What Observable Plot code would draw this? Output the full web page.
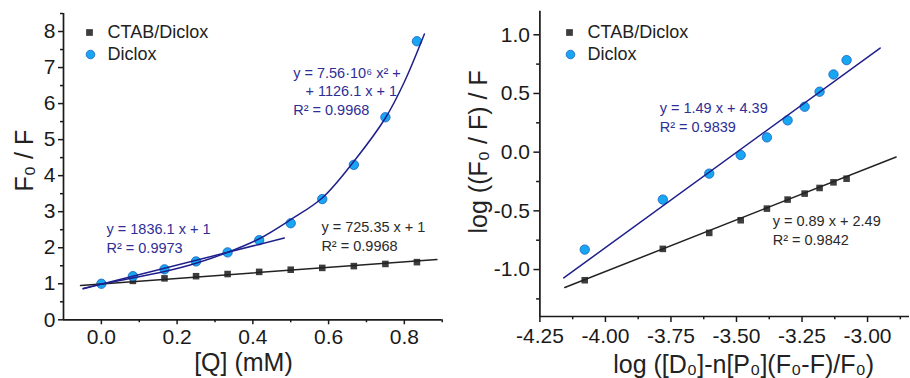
<!DOCTYPE html>
<html><head><meta charset="utf-8">
<script src="https://cdn.jsdelivr.net/npm/d3@7"></script>
<script src="https://cdn.jsdelivr.net/npm/@observablehq/plot@0.6"></script>
<style>
body{margin:0;background:#fff;}
#wrap{display:flex;width:910px;height:378px;background:#fff;}
#wrap svg{display:block;}
</style></head><body><div id="wrap"></div>
<script>
// ---------- data ----------
const seriesNames = ["CTAB/Diclox", "Diclox"];

// left panel: F0/F vs [Q] (mM)
const qConc     = [0, 0.0833, 0.1667, 0.25, 0.3333, 0.4167, 0.5, 0.5833, 0.6667, 0.75, 0.8333];
const dicloxF0F = [1.00, 1.21, 1.40, 1.62, 1.87, 2.21, 2.68, 3.35, 4.30, 5.62, 7.73];
const ctabF0F   = [1.00, 1.08, 1.15, 1.21, 1.27, 1.33, 1.39, 1.44, 1.49, 1.55, 1.60];
const linFitX   = [-0.048, 0.483];
const linFitY   = [0.86, 2.27];
const ctabFitX  = [-0.055, 0.886];
const ctabFitY  = [0.955, 1.67];
const quadFitX  = [-0.048, 0, 0.083, 0.167, 0.25, 0.333, 0.417, 0.5, 0.583, 0.667, 0.75, 0.80, 0.853];
const quadFitY  = [0.87, 0.99, 1.16, 1.34, 1.57, 1.87, 2.25, 2.78, 3.38, 4.40, 5.60, 6.60, 7.93];

// right panel: log((F0/F)/F) vs log([D0]-n[P0](F0-F)/F0)
const logDP     = [-4.079, -3.781, -3.604, -3.484, -3.384, -3.305, -3.240, -3.183, -3.130, -3.080];
const dicloxLog = [-0.830, -0.404, -0.183, -0.024, 0.126, 0.271, 0.387, 0.515, 0.662, 0.784];
const ctabLog   = [-1.091, -0.824, -0.688, -0.580, -0.481, -0.404, -0.353, -0.305, -0.257, -0.226];
const dicloxLogFitX = [-4.159, -2.952];
const dicloxLogFitY = [-1.071, 0.887];
const ctabLogFitX   = [-4.155, -2.891];
const ctabLogFitY   = [-1.153, -0.041];

// axes
const qDomain    = [-0.1, 0.9];
const qTicks     = [0, 0.2, 0.4, 0.6, 0.8];
const qMinor     = [0.1, 0.3, 0.5, 0.7, 0.9];
const f0fDomain  = [0, 8.5];
const f0fTicks   = [0, 1, 2, 3, 4, 5, 6, 7, 8];
const f0fMinor   = [0.5, 1.5, 2.5, 3.5, 4.5, 5.5, 6.5, 7.5, 8.5];
const logXDomain = [-4.25, -2.84];
const logXTicks  = [-4.25, -4.0, -3.75, -3.5, -3.25, -3.0];
const logXMinor  = [-4.125, -3.875, -3.625, -3.375, -3.125, -2.875];
const logYDomain = [-1.4, 1.2];
const logYTicks  = [-1.0, -0.5, 0.0, 0.5, 1.0];
const logYMinor  = [-1.25, -0.75, -0.25, 0.25, 0.75];

// fit annotations
const leftNotes = [
  {text: "y = 7.56·10⁶ x² +", x: 0.5065, y: 6.72, tone: "blue"},
  {text: "+ 1126.1 x + 1",    x: 0.539,  y: 6.21, tone: "blue"},
  {text: "R² = 0.9968",       x: 0.5065, y: 5.68, tone: "blue"},
  {text: "y = 1836.1 x + 1",  x: 0.0135, y: 2.37, tone: "blue"},
  {text: "R² = 0.9973",       x: 0.0135, y: 1.84, tone: "blue"},
  {text: "y = 725.35 x + 1",  x: 0.581,  y: 2.44, tone: "black"},
  {text: "R² = 0.9968",       x: 0.581,  y: 1.91, tone: "black"}
];
const rightNotes = [
  {text: "y = 1.49 x + 4.39", x: -3.793, y: 0.336,  tone: "blue"},
  {text: "R² = 0.9839",       x: -3.793, y: 0.171,  tone: "blue"},
  {text: "y = 0.89 x + 2.49", x: -3.362, y: -0.631, tone: "black"},
  {text: "R² = 0.9842",       x: -3.362, y: -0.793, tone: "black"}
];

// ---------- styling ----------
const FONT = "'Liberation Sans', Arial, Helvetica, sans-serif";
const AXIS = "#1a1a1a";
const NAVY = "#1f1f8c";
const NAVY_TEXT = "#2e2e96";
const DARK = "#222222";
const DARK_TEXT = "#2a2a2a";
const C_FILL = "#17a7f2";
const C_STROKE = "#1b5fc0";
const S_FILL = "#3d3d3d";

const zipXY = (xs, ys) => xs.map((x, i) => ({x, y: ys[i]}));

function notes(arr) {
  return [
    Plot.text(arr.filter(d => d.tone === "blue"), {x: "x", y: "y", text: "text", fill: NAVY_TEXT, textAnchor: "start", lineAnchor: "bottom", fontSize: 14.5}),
    Plot.text(arr.filter(d => d.tone === "black"), {x: "x", y: "y", text: "text", fill: DARK_TEXT, textAnchor: "start", lineAnchor: "bottom", fontSize: 14.5})
  ];
}

function legend(dx0, dy0) {
  return [
    Plot.dot([seriesNames[0]], {frameAnchor: "top-left", dx: dx0, dy: dy0, symbol: "square", r: 3.8, fill: S_FILL}),
    Plot.dot([seriesNames[1]], {frameAnchor: "top-left", dx: dx0 + 1, dy: dy0 + 22, r: 4.3, fill: C_FILL, stroke: C_STROKE, strokeWidth: 0.8}),
    Plot.text([seriesNames[0]], {frameAnchor: "top-left", dx: dx0 + 18, dy: dy0, text: d => d, textAnchor: "start", lineAnchor: "middle", fontSize: 18, fill: "#222"}),
    Plot.text([seriesNames[1]], {frameAnchor: "top-left", dx: dx0 + 18, dy: dy0 + 22, text: d => d, textAnchor: "start", lineAnchor: "middle", fontSize: 18, fill: "#222"})
  ];
}

const left = Plot.plot({
  width: 455, height: 378,
  marginLeft: 63, marginRight: 13.3, marginTop: 13, marginBottom: 58.7,
  style: {fontFamily: FONT, color: AXIS, background: "#fff", overflow: "visible"},
  x: {domain: qDomain},
  y: {domain: f0fDomain},
  marks: [
    Plot.axisX(qTicks, {tickSize: 5, tickPadding: 4, fontSize: 21, tickFormat: d => d.toFixed(1), label: null, strokeWidth: 1.5}),
    Plot.axisX(qMinor, {tickSize: 3, text: null, label: null, strokeWidth: 1.5}),
    Plot.axisY(f0fTicks, {tickSize: 5, tickPadding: 3, fontSize: 21, tickFormat: d => String(d), label: null, strokeWidth: 1.5}),
    Plot.axisY(f0fMinor, {tickSize: 3, text: null, label: null, strokeWidth: 1.5}),
    Plot.ruleX([qDomain[0]], {stroke: AXIS, strokeWidth: 1.7}),
    Plot.ruleY([f0fDomain[0]], {stroke: AXIS, strokeWidth: 1.7}),
    Plot.dot(zipXY(qConc, ctabF0F), {x: "x", y: "y", symbol: "square", r: 3.7, fill: S_FILL}),
    Plot.dot(zipXY(qConc, dicloxF0F), {x: "x", y: "y", r: 4.7, fill: C_FILL, stroke: C_STROKE, strokeWidth: 0.8}),
    Plot.line(zipXY(ctabFitX, ctabFitY), {x: "x", y: "y", stroke: DARK, strokeWidth: 1.5}),
    Plot.line(zipXY(linFitX, linFitY), {x: "x", y: "y", stroke: NAVY, strokeWidth: 1.5}),
    Plot.line(zipXY(quadFitX, quadFitY), {x: "x", y: "y", stroke: NAVY, strokeWidth: 1.5, curve: "catmull-rom"}),
    ...notes(leftNotes),
    ...legend(26, 19),
    Plot.text(["[Q] (mM)"], {frameAnchor: "bottom", text: d => d, textAnchor: "middle", dx: -9.4, dy: 50.7, lineAnchor: "bottom", fontSize: 25, fill: "#222"}),
    Plot.text(["F₀ / F"], {frameAnchor: "left", text: d => d, rotate: -90, textAnchor: "middle", dx: -31, dy: -6, lineAnchor: "bottom", fontSize: 25, fill: "#222"})
  ]
});

const right = Plot.plot({
  width: 455, height: 378,
  marginLeft: 84.4, marginRight: 1, marginTop: 10.8, marginBottom: 62,
  style: {fontFamily: FONT, color: AXIS, background: "#fff", overflow: "visible"},
  x: {domain: logXDomain},
  y: {domain: logYDomain},
  marks: [
    Plot.axisX(logXTicks, {tickSize: 6, tickPadding: 6, fontSize: 21, tickFormat: d => d.toFixed(2), label: null, strokeWidth: 1.5}),
    Plot.axisX(logXMinor, {tickSize: 3.3, text: null, label: null, strokeWidth: 1.5}),
    Plot.axisY(logYTicks, {tickSize: 6, tickPadding: 4, fontSize: 21, tickFormat: d => d.toFixed(1), label: null, strokeWidth: 1.5}),
    Plot.axisY(logYMinor, {tickSize: 3.3, text: null, label: null, strokeWidth: 1.5}),
    Plot.ruleX([logXDomain[0]], {stroke: AXIS, strokeWidth: 1.7}),
    Plot.ruleY([logYDomain[0]], {stroke: AXIS, strokeWidth: 1.7}),
    Plot.dot(zipXY(logDP, ctabLog), {x: "x", y: "y", symbol: "square", r: 3.7, fill: S_FILL}),
    Plot.dot(zipXY(logDP, dicloxLog), {x: "x", y: "y", r: 4.7, fill: C_FILL, stroke: C_STROKE, strokeWidth: 0.8}),
    Plot.line(zipXY(ctabLogFitX, ctabLogFitY), {x: "x", y: "y", stroke: DARK, strokeWidth: 1.5}),
    Plot.line(zipXY(dicloxLogFitX, dicloxLogFitY), {x: "x", y: "y", stroke: NAVY, strokeWidth: 1.5}),
    ...notes(rightNotes),
    ...legend(29.6, 21.2),
    Plot.text(["log ([D₀]-n[P₀](F₀-F)/F₀)"], {frameAnchor: "bottom", text: d => d, textAnchor: "middle", dx: 19, dy: 56, lineAnchor: "bottom", fontSize: 25, fill: "#222"}),
    Plot.text(["log ((F₀ / F) / F"], {frameAnchor: "left", text: d => d, rotate: -90, textAnchor: "middle", dx: -53.4, dy: -12, lineAnchor: "bottom", fontSize: 25, fill: "#222"})
  ]
});

document.getElementById("wrap").append(left, right);
</script>
</body></html>
